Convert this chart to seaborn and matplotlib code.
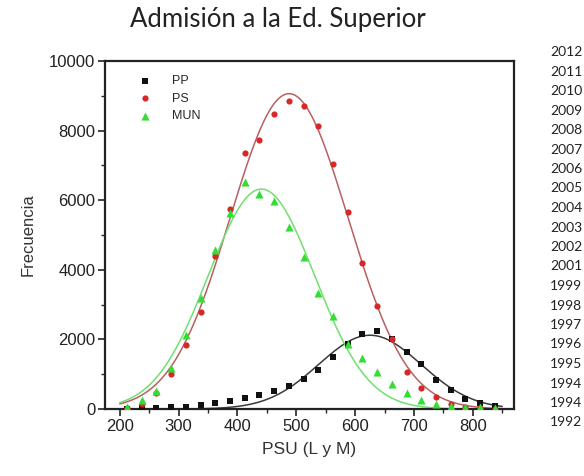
import numpy as np
import pandas as pd
import matplotlib
matplotlib.use("Agg")
import matplotlib.pyplot as plt
from matplotlib.ticker import MultipleLocator
import seaborn as sns

# ---- data ----
psu = [212.5, 237.5, 262.5, 287.5, 312.5, 337.5, 362.5, 387.5, 412.5, 437.5,
       462.5, 487.5, 512.5, 537.5, 562.5, 587.5, 612.5, 637.5, 662.5, 687.5,
       712.5, 737.5, 762.5, 787.5, 812.5, 837.5]
pp = [10, 20, 30, 60, 70, 110, 180, 230, 320, 400,
      520, 660, 860, 1120, 1500, 1870, 2150, 2230, 2010, 1640,
      1290, 830, 550, 290, 170, 90]
ps = [20, 150, 450, 1000, 1840, 2800, 4400, 5750, 7350, 7730,
      8480, 8850, 8700, 8120, 7030, 5660, 4200, 2960, 2020, 1050,
      600, 345, 150, 60, 30, 10]
mun = [50, 260, 510, 1180, 2140, 3190, 4580, 5630, 6520, 6180,
       5980, 5230, 4370, 3330, 2670, 1870, 1470, 1060, 720, 460,
       250, 130, 90, 70, 60, 40]
series_names = ["PP", "PS", "MUN"]
years = ["2012", "2011", "2010", "2009", "2008", "2007", "2006", "2005", "2004",
         "2003", "2002", "2001", "1999", "1998", "1997", "1996", "1995", "1994",
         "1994", "1992"]

title = "Admisión a la Ed. Superior"
xlabel = "PSU (L y M)"
ylabel = "Frecuencia"


def fit_gauss(x, y):
    """Least-squares Gaussian fit (Levenberg-Marquardt) of the data points."""
    x = np.asarray(x, float)
    y = np.asarray(y, float)
    p = np.array([y.max(), x[np.argmax(y)], 100.0])
    lam = 1e-3

    def model(p):
        return p[0] * np.exp(-(x - p[1]) ** 2 / (2 * p[2] ** 2))

    for _ in range(300):
        a, mu, s = p
        e = np.exp(-(x - mu) ** 2 / (2 * s ** 2))
        J = np.column_stack([e, a * e * (x - mu) / s ** 2, a * e * (x - mu) ** 2 / s ** 3])
        r = y - model(p)
        H = J.T @ J
        g = J.T @ r
        step = np.linalg.solve(H + lam * np.diag(np.diag(H)), g)
        pn = p + step
        if np.sum((y - model(pn)) ** 2) < np.sum(r ** 2):
            p = pn
            lam *= 0.3
        else:
            lam *= 10
    return p


df = pd.DataFrame({"PSU": psu * 3,
                   "Frecuencia": pp + ps + mun,
                   "serie": ["PP"] * len(psu) + ["PS"] * len(psu) + ["MUN"] * len(psu)})

xs = np.linspace(200, 850, 400)
curves = []
for name, vals in zip(series_names, [pp, ps, mun]):
    a, mu, s = fit_gauss(psu, vals)
    curves.append(pd.DataFrame({"PSU": xs,
                                "Frecuencia": a * np.exp(-(xs - mu) ** 2 / (2 * s ** 2)),
                                "serie": name}))
curve_df = pd.concat(curves, ignore_index=True)

sns.set_style("ticks")
plt.rcParams["font.family"] = ["Liberation Sans", "DejaVu Sans"]

fig = plt.figure(figsize=(5.84, 4.76), dpi=100)
ax = fig.add_axes([105 / 584, 1 - 409 / 476, 409 / 584, 348 / 476])

marker_colors = {"PP": "#111111", "PS": "#d62828", "MUN": "#33dd33"}
line_colors = {"PP": "#3a3a3a", "PS": "#b86060", "MUN": "#70e070"}
markers = {"PP": "s", "PS": "o", "MUN": "^"}
sizes = {"PP": 14, "PS": 20, "MUN": 34}

sns.lineplot(data=curve_df, x="PSU", y="Frecuencia", hue="serie",
             palette=line_colors, hue_order=series_names, linewidth=1.1,
             legend=False, ax=ax, zorder=2)
for name in series_names:
    sub = df[df["serie"] == name]
    sns.scatterplot(data=sub, x="PSU", y="Frecuencia", marker=markers[name],
                    color=marker_colors[name], s=sizes[name], linewidth=0,
                    label=name, ax=ax, zorder=3)

ax.set_xlim(175, 870)
ax.set_ylim(0, 10000)
ax.xaxis.set_major_locator(MultipleLocator(100))
ax.xaxis.set_minor_locator(MultipleLocator(50))
ax.yaxis.set_major_locator(MultipleLocator(2000))
ax.yaxis.set_minor_locator(MultipleLocator(1000))
ax.set_xticks(range(200, 801, 100))
ax.tick_params(axis="both", which="major", direction="out", length=5, width=1.2,
               labelsize=12, colors="#222222", top=False, right=False, pad=2)
ax.tick_params(axis="both", which="minor", direction="out", length=3, width=1.0,
               top=False, right=False)
for sp in ax.spines.values():
    sp.set_visible(True)
    sp.set_linewidth(1.6)
    sp.set_color("#222222")

ax.set_xlabel(xlabel, fontsize=12.5, color="#333333", labelpad=6)
ax.set_ylabel(ylabel, fontsize=12, color="#333333", labelpad=10)

leg = ax.legend(loc="upper left", bbox_to_anchor=(0.045, 0.985), frameon=False,
                fontsize=9, handletextpad=1.2, labelspacing=0.45, borderaxespad=0.3)

fig.text(278 / 584, 1 - 20 / 476, title, ha="center", va="center",
         fontsize=18.5, family=["Lato", "DejaVu Sans"], color="#222222")

for i, yr in enumerate(years):
    fig.text(550 / 584, 1 - (52 + i * 19.5) / 476, yr, ha="left", va="center",
             fontsize=10, family=["Lato", "DejaVu Sans"], color="#222222")

fig.savefig("out.png", dpi=100)
